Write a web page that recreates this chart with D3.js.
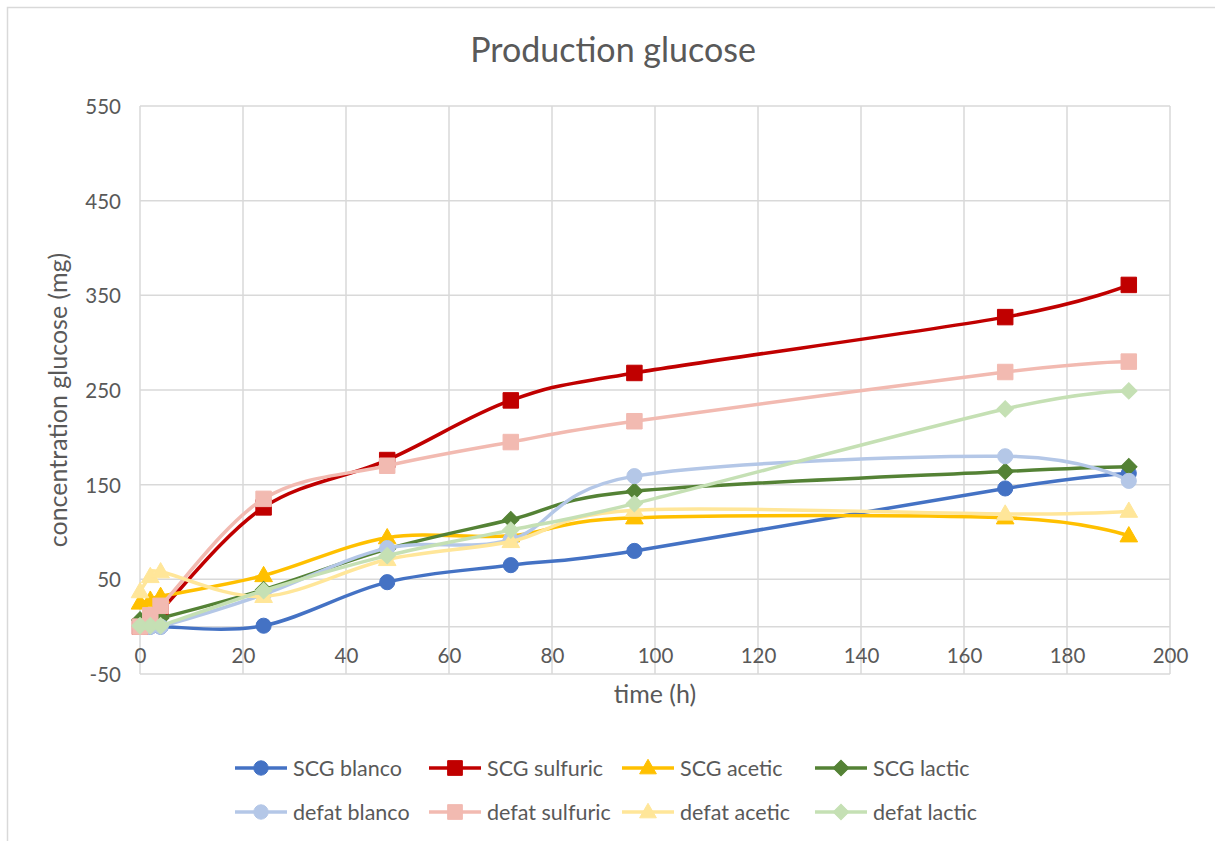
<!DOCTYPE html>
<html><head><meta charset="utf-8">
<script src="https://cdn.jsdelivr.net/npm/d3@7"></script>
<style>
html,body{margin:0;padding:0;background:#fff;}
text{font-family:Lato,"Open Sans",sans-serif;fill:#595959;}
</style></head>
<body>
<svg id="chart" width="1215" height="841"></svg>
<script>
const times = [0, 2, 4, 24, 48, 72, 96, 168, 192];
const seriesNames = ["SCG blanco","SCG sulfuric","SCG acetic","SCG lactic","defat blanco","defat sulfuric","defat acetic","defat lactic"];
const scgBlanco    = [0, 0, 0, 1, 47, 65, 80, 146, 162];
const scgSulfuric  = [0, 5, 17, 126, 176, 239, 268, 327, 361];
const scgAcetic    = [25, 28, 32, 54, 94, 96, 115, 115, 96];
const scgLactic    = [7, 8, 9, 39, 82, 113, 143, 164, 169];
const defatBlanco  = [0, 0, 0, 34, 83, 92, 159, 180, 154];
const defatSulfuric= [0, 12, 22, 135, 170, 195, 217, 269, 280];
const defatAcetic  = [37, 53, 58, 32, 71, 90, 123, 119, 122];
const defatLactic  = [1, 1, 1, 38, 75, 102, 130, 230, 249];
const xTicks = [0,20,40,60,80,100,120,140,160,180,200];
const yTicks = [-50,50,150,250,350,450,550];
const colors = ["#4472C4","#C00000","#FFC000","#548235","#B4C7E7","#F2BAB1","#FFE699","#C5E0B4"];
const shapes = ["circle","square","triangle","diamond","circle","square","triangle","diamond"];
const allValues = [scgBlanco,scgSulfuric,scgAcetic,scgLactic,defatBlanco,defatSulfuric,defatAcetic,defatLactic];

const svg = d3.select("#chart");
// outer border
svg.append("rect").attr("x",7.5).attr("y",7.5).attr("width",1220).attr("height",850)
  .attr("fill","#fff").attr("stroke","#D9D9D9").attr("stroke-width",1.5);

const x = d3.scaleLinear().domain([0,200]).range([140,1170]);
const y = d3.scaleLinear().domain([-50,550]).range([674,106]);

// gridlines
const g = svg.append("g");
g.selectAll(".hg").data(yTicks).enter().append("line")
  .attr("x1",x(0)).attr("x2",x(200)).attr("y1",d=>y(d)).attr("y2",d=>y(d))
  .attr("stroke","#D9D9D9").attr("stroke-width",1.5);
g.selectAll(".vg").data(xTicks).enter().append("line")
  .attr("y1",y(-50)).attr("y2",y(550)).attr("x1",d=>x(d)).attr("x2",d=>x(d))
  .attr("stroke","#D9D9D9").attr("stroke-width",1.5);
// x axis line at 0
g.append("line").attr("x1",x(0)).attr("x2",x(200)).attr("y1",y(0)).attr("y2",y(0))
  .attr("stroke","#D9D9D9").attr("stroke-width",1.5);

// axes labels via d3 axes
const yAxis = svg.append("g").attr("transform",`translate(${x(0)-19},0)`)
  .call(d3.axisLeft(y).tickValues(yTicks).tickFormat(d=>String(d)).tickSize(0).tickPadding(0));
yAxis.select(".domain").remove();
yAxis.selectAll("text").style("font-size","20.5px").style("font-family","Lato").attr("fill","#595959").attr("dy","0.36em");

const xAxis = svg.append("g").attr("transform",`translate(0,${648})`)
  .call(d3.axisBottom(x).tickValues(xTicks).tickFormat(d=>String(d)).tickSize(0).tickPadding(0));
xAxis.select(".domain").remove();
xAxis.selectAll("text").style("font-size","20.5px").style("font-family","Lato").attr("fill","#595959").attr("dy","0.71em");

// titles
svg.append("text").attr("x",613).attr("y",62).attr("text-anchor","middle")
  .style("font-size","34px").text("Production glucose");
svg.append("text").attr("transform","translate(67,400) rotate(-90)").attr("text-anchor","middle")
  .style("font-size","25px").text("concentration glucose (mg)");
svg.append("text").attr("x",655).attr("y",703).attr("text-anchor","middle")
  .style("font-size","25px").text("time (h)");

function symPath(shape, scale){
  const s = scale||1;
  if(shape==="circle") return d3.symbol().type(d3.symbolCircle).size(180*s*s)();
  if(shape==="square") return d3.symbol().type(d3.symbolSquare).size(240*s*s)();
  if(shape==="triangle") return d3.symbol().type(d3.symbolTriangle).size(135*s*s)();
  return d3.symbol().type(d3.symbolSquare).size(135*s*s)();
}
function symTransform(shape, px, py){
  return `translate(${px},${py})`+(shape==="diamond"?" rotate(45)":"")+(shape==="triangle"?" translate(0,1)":"");
}

const line = d3.line().x(d=>x(d[0])).y(d=>y(d[1])).curve(d3.curveCatmullRom.alpha(0));

allValues.forEach((vals,i)=>{
  const pts = times.map((t,j)=>[t,vals[j]]);
  const sg = svg.append("g");
  sg.append("path").datum(pts).attr("d",line).attr("fill","none")
    .attr("stroke",colors[i]).attr("stroke-width",3.5).attr("stroke-linejoin","round").attr("stroke-linecap","round");
  sg.selectAll("path.m").data(pts).enter().append("path").attr("class","m")
    .attr("d",symPath(shapes[i]))
    .attr("transform",d=>symTransform(shapes[i],x(d[0]),y(d[1])))
    .attr("fill",colors[i]).attr("stroke",colors[i]).attr("stroke-width",1);
});

// legend
const legX = [235, 429, 622, 815];
const legY = [768, 812];
seriesNames.forEach((name,i)=>{
  const lx = legX[i%4], ly = legY[Math.floor(i/4)];
  const lg = svg.append("g");
  lg.append("line").attr("x1",lx).attr("x2",lx+52).attr("y1",ly).attr("y2",ly)
    .attr("stroke",colors[i]).attr("stroke-width",3.5);
  lg.append("path").attr("d",symPath(shapes[i],0.95))
    .attr("transform",symTransform(shapes[i],lx+26,ly))
    .attr("fill",colors[i]).attr("stroke",colors[i]);
  lg.append("text").attr("x",lx+58).attr("y",ly).attr("dy","0.36em")
    .style("font-size","21.5px").text(name);
});
</script>
</body></html>
